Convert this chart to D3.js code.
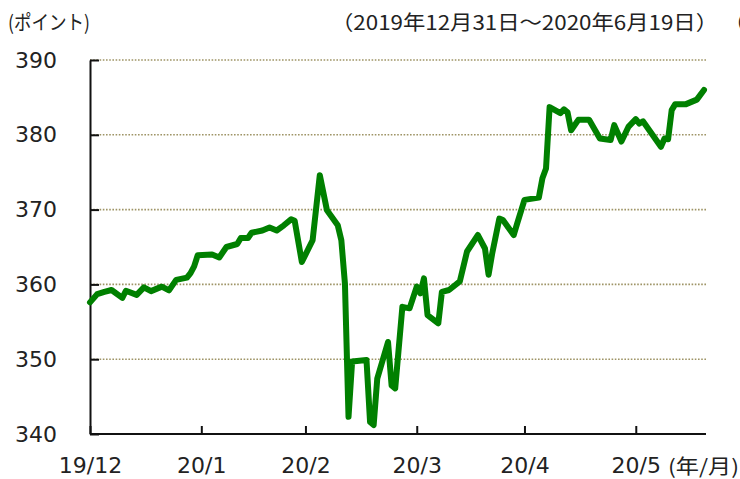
<!doctype html>
<html lang="ja">
<head>
<meta charset="UTF-8">
<script src="https://d3js.org/d3.v7.min.js"></script>
<style>
    body { margin: 0; background: #fff; }
    .num { font-family: "DejaVu Sans", Verdana, sans-serif; font-size: 22px; fill: #222; }
    .jp { font-family: "Noto Sans CJK JP", sans-serif; font-size: 20px; fill: #222; }
</style>
</head>
<body>
<svg id="chart" width="740" height="479"></svg>
<script>
// data
var dates = ["2019-12-31","2020-01-02","2020-01-04","2020-01-06","2020-01-09","2020-01-10","2020-01-13",
    "2020-01-15","2020-01-17","2020-01-20","2020-01-22","2020-01-24","2020-01-27","2020-01-28","2020-01-29",
    "2020-01-30","2020-02-03","2020-02-05","2020-02-07","2020-02-10","2020-02-11","2020-02-13","2020-02-14",
    "2020-02-17","2020-02-19","2020-02-21","2020-02-23","2020-02-25","2020-02-26","2020-02-28","2020-03-02",
    "2020-03-04","2020-03-06","2020-03-09","2020-03-10","2020-03-11","2020-03-12","2020-03-13","2020-03-17",
    "2020-03-18","2020-03-19","2020-03-20","2020-03-23","2020-03-24","2020-03-25","2020-03-27","2020-03-29",
    "2020-03-31","2020-04-01","2020-04-02","2020-04-03","2020-04-06","2020-04-07","2020-04-09","2020-04-12",
    "2020-04-14","2020-04-17","2020-04-19","2020-04-20","2020-04-21","2020-04-23","2020-04-24","2020-04-27",
    "2020-04-28","2020-04-30","2020-05-04","2020-05-05","2020-05-06","2020-05-07","2020-05-10","2020-05-11",
    "2020-05-12","2020-05-13","2020-05-15","2020-05-18","2020-05-21","2020-05-24","2020-05-25","2020-05-27",
    "2020-05-29","2020-05-31","2020-06-01","2020-06-02","2020-06-07","2020-06-08","2020-06-09","2020-06-10",
    "2020-06-11","2020-06-14","2020-06-17","2020-06-19"];
var values = [357.6,358.7,359.0,359.25,358.2,359.15,358.6,
    359.6,359.1,359.7,359.2,360.6,360.9,361.5,362.4,
    363.9,364.0,363.6,365.0,365.4,366.2,366.2,366.9,
    367.2,367.6,367.2,367.9,368.7,368.5,363.0,365.9,
    374.6,369.9,367.9,365.9,360.1,342.3,349.7,349.9,
    341.6,341.2,347.4,352.3,346.5,346.1,357.0,356.8,
    359.7,358.8,360.8,355.9,354.8,359.0,359.25,360.4,
    364.4,366.6,364.8,361.3,364.1,368.8,368.6,366.6,
    368.2,371.3,371.6,374.2,375.5,383.7,382.9,383.4,
    383.0,380.6,382.0,382.0,379.5,379.3,381.3,379.1,
    381.1,382.1,381.5,381.8,378.4,379.5,379.4,383.3,
    384.1,384.1,384.7,386.0];

var tickDates = ["2019-12-31","2020-01-31","2020-02-29","2020-03-31","2020-04-30","2020-05-31"];
var tickLabels = ["19/12","20/1","20/2","20/3","20/4","20/5"];
var yTicks = [340,350,360,370,380,390];

function draw() {
    var parse = d3.timeParse("%Y-%m-%d");
    var data = dates.map(function (d, i) {
        return {date: parse(d), value: values[i]};
    });

    var svg = d3.select("#chart");
    var x0 = 90, x1 = 704, y0 = 434, y1 = 60;

    var xScale = d3.scaleTime()
        .domain([parse("2019-12-31"), parse("2020-06-19")])
        .range([x0, x1]);
    var yScale = d3.scaleLinear().domain([340, 390]).range([y0, y1]);

    // dotted gridlines
    svg.append("g")
        .selectAll("line")
        .data(yTicks.filter(function (d) { return d > 340; }))
        .enter()
        .append("line")
        .attr("x1", x0)
        .attr("x2", 706)
        .attr("y1", function (d) { return yScale(d); })
        .attr("y2", function (d) { return yScale(d); })
        .attr("stroke", "#9e9466")
        .attr("stroke-width", 1.6)
        .attr("stroke-dasharray", "1.6,1.6");

    // y axis, ticks pointing inward
    var yAxis = d3.axisLeft(yScale)
        .tickValues(yTicks)
        .tickSizeInner(-9)
        .tickSizeOuter(0)
        .tickPadding(33);
    var gy = svg.append("g")
        .attr("transform", "translate(" + x0 + ",0)")
        .call(yAxis);
    gy.attr("font-size", null).attr("font-family", null);
    gy.select(".domain").attr("stroke", "#111").attr("stroke-width", 2);
    gy.selectAll(".tick line").attr("stroke", "#111").attr("stroke-width", 2);
    gy.selectAll(".tick text").attr("class", "num").attr("fill", "#222");

    // x axis, ticks pointing up
    var xAxis = d3.axisBottom(xScale)
        .tickValues(tickDates.map(parse))
        .tickFormat(function (d, i) { return tickLabels[i]; })
        .tickSizeInner(-8)
        .tickSizeOuter(0)
        .tickPadding(23);
    var gx = svg.append("g")
        .attr("transform", "translate(0," + y0 + ")")
        .call(xAxis);
    gx.attr("font-size", null).attr("font-family", null);
    gx.select(".domain").attr("d", "M" + x0 + ",0H706").attr("stroke", "#111").attr("stroke-width", 2);
    gx.selectAll(".tick line").attr("stroke", "#111").attr("stroke-width", 2);
    gx.selectAll(".tick text").attr("class", "num").attr("fill", "#222");

    // the series
    var line = d3.line()
        .x(function (d) { return xScale(d.date); })
        .y(function (d) { return yScale(d.value); });
    svg.append("path")
        .datum(data)
        .attr("d", line)
        .attr("fill", "none")
        .attr("stroke", "#008000")
        .attr("stroke-width", 6)
        .attr("stroke-linejoin", "round")
        .attr("stroke-linecap", "round");

    // texts
    svg.append("text").attr("class", "jp").attr("x", 8).attr("y", 30)
        .attr("textLength", 82).attr("lengthAdjust", "spacingAndGlyphs").text("(ポイント)");
    svg.append("text").attr("class", "jp").attr("x", 331).attr("y", 30)
        .attr("textLength", 387).attr("lengthAdjust", "spacingAndGlyphs").text("（2019年12月31日～2020年6月19日）");
    svg.append("text").attr("class", "jp").attr("x", 725).attr("y", 30).text("（");
    svg.append("text").attr("class", "jp").attr("x", 668).attr("y", 474)
        .attr("textLength", 71).attr("lengthAdjust", "spacingAndGlyphs").text("(年/月)");
}
draw();
</script>
</body>
</html>
